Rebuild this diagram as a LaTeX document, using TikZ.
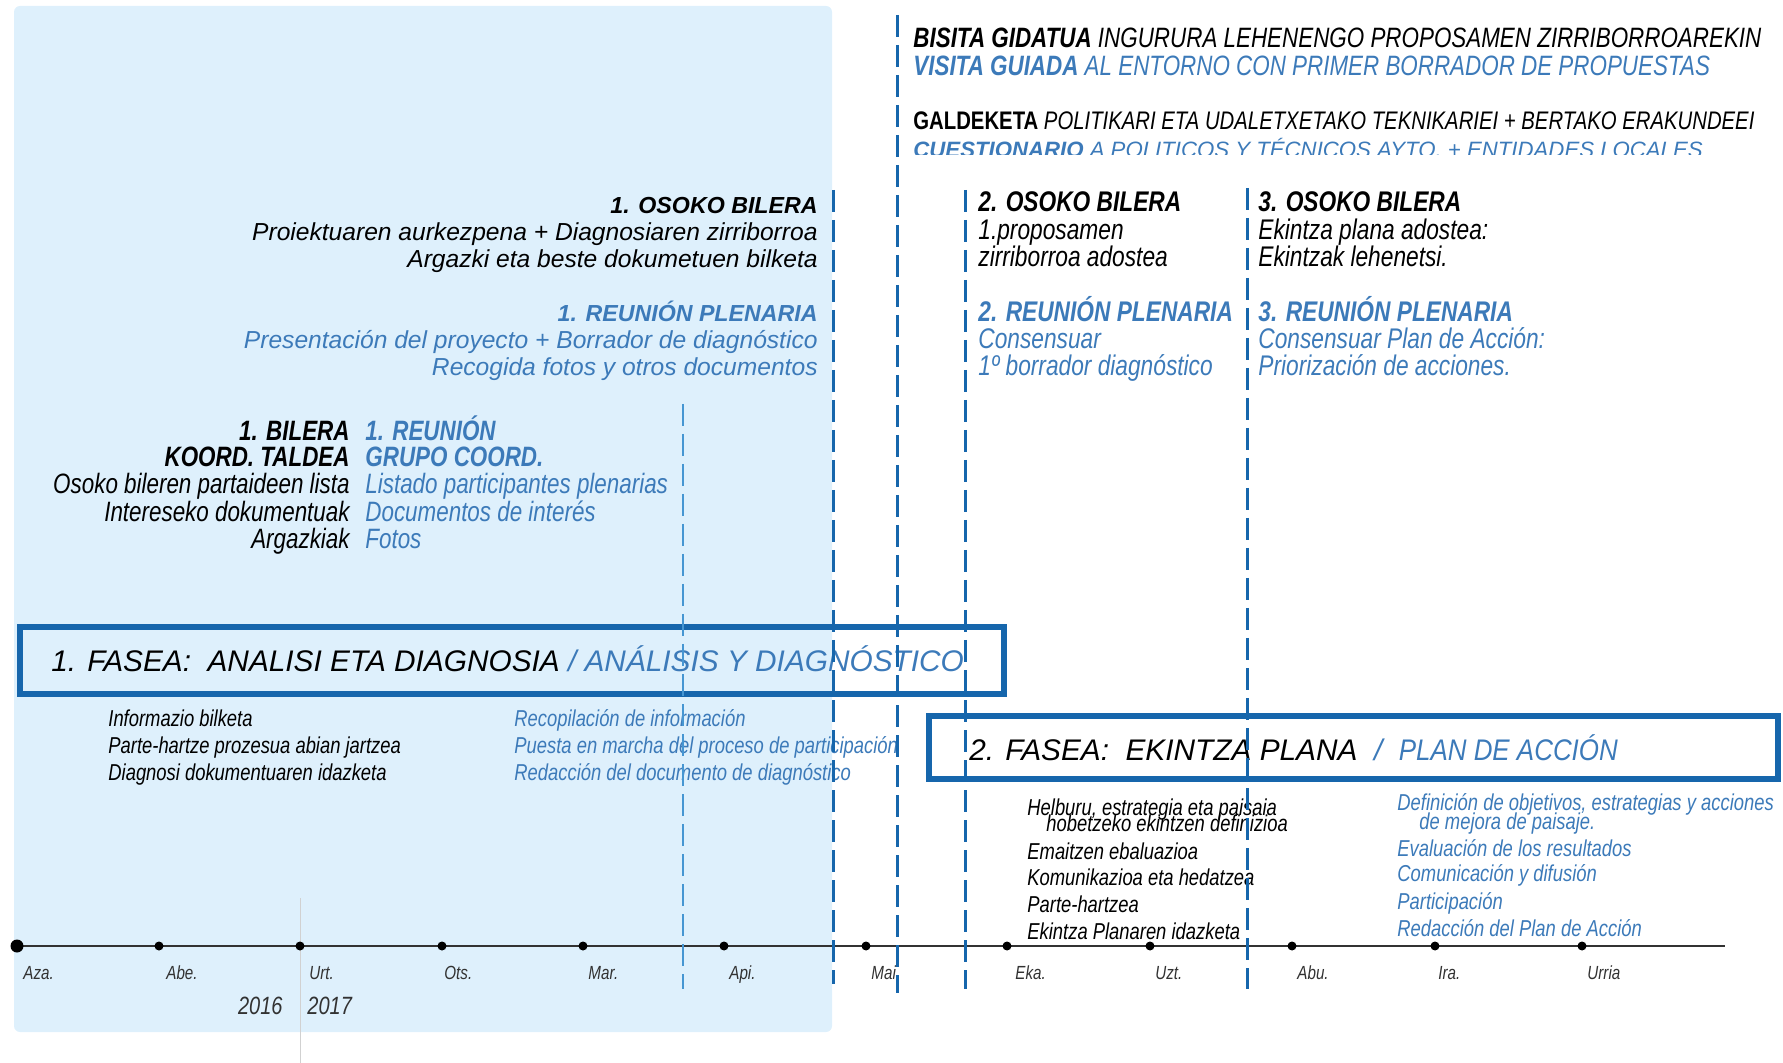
\documentclass[tikz,border=0pt]{standalone}
\usepackage{fontspec}
\setmainfont{Liberation Sans}
\newfontfamily\narrowfont[FakeStretch=0.8]{Liberation Sans}
\newfontfamily\semifont[FakeStretch=0.87]{Liberation Sans}
\definecolor{bgblue}{RGB}{222,240,252}
\definecolor{boxblue}{RGB}{22,102,172}
\definecolor{txtblue}{RGB}{60,122,185}
\definecolor{lightline}{RGB}{70,150,210}
\definecolor{axisgray}{RGB}{50,50,50}
\tikzset{
  eu/.style={inner sep=0pt, text=black},
  es/.style={inner sep=0pt, text=txtblue},
  toptxt/.style={anchor=base west, font=\narrowfont\fontsize{14}{16}\selectfont\itshape},
  meet/.style={font=\fontsize{12.3}{14}\selectfont\itshape},
  meethead/.style={font=\fontsize{11.6}{14}\selectfont\itshape\bfseries},
  coordtxt/.style={font=\narrowfont\fontsize{14}{16}\selectfont\itshape},
  midtxt/.style={anchor=base west, font=\narrowfont\fontsize{14.2}{16}\selectfont\itshape},
  listtxt/.style={anchor=base west, font=\narrowfont\fontsize{11.5}{13}\selectfont\itshape},
  fasetxt/.style={anchor=base west, font=\fontsize{14.9}{17}\selectfont\itshape},
  month/.style={inner sep=0pt, anchor=base west, text=axisgray,
    font=\narrowfont\fontsize{9.5}{11}\selectfont\itshape},
  year/.style={inner sep=0pt, text=axisgray, font=\narrowfont\fontsize{12.5}{14}\selectfont\itshape},
  phasebox/.style={draw=boxblue, line width=3pt},
  sepline/.style={boxblue, line width=1.5pt, dash pattern=on 11pt off 4pt},
  septhin/.style={lightline, line width=0.8pt, dash pattern=on 11pt off 4pt},
  dot/.style={circle, fill=black, inner sep=0pt, minimum size=4.5pt}
}
\begin{document}
\begin{tikzpicture}[x=0.5pt, y=-0.5pt]
    \useasboundingbox (0,0) rectangle (1783,1063);
    \pgfmathsetmacro{\axis}{946}

    \fill[bgblue, rounded corners=3pt] (14,6) rectangle (832,1032);
    \draw[black!18, line width=0.5pt] (300,898) -- (300,1063);

    \node[eu, toptxt] (bisita) at (913,48)
        {{\bfseries BISITA GIDATUA} INGURURA LEHENENGO PROPOSAMEN ZIRRIBORROAREKIN};
    \node[es, toptxt] (visita) at (913,76)
        {{\bfseries VISITA GUIADA} AL ENTORNO CON PRIMER BORRADOR DE PROPUESTAS};
    \node[eu, toptxt, font=\narrowfont\fontsize{12.7}{15}\selectfont\itshape] (galdeketa) at (913,130)
        {{\upshape\bfseries GALDEKETA} POLITIKARI ETA UDALETXETAKO TEKNIKARIEI + BERTAKO ERAKUNDEEI};
    \begin{scope}
        \clip (880,100) rectangle (1783,155);
        \node[es, anchor=base west, font=\fontsize{11.1}{13}\selectfont\itshape] (cuestionario) at (913,158)
            {{\bfseries CUESTIONARIO} A POLITICOS Y TÉCNICOS AYTO. + ENTIDADES LOCALES};
    \end{scope}

    \node[eu, meethead, anchor=base east] (osoko1) at (818,214) {1. OSOKO BILERA};
    \node[eu, meet, anchor=base east] (osoko1a) at (818,241) {Proiektuaren aurkezpena + Diagnosiaren zirriborroa};
    \node[eu, meet, anchor=base east] (osoko1b) at (818,268) {Argazki eta beste dokumetuen bilketa};
    \node[es, meethead, anchor=base east] (plenaria1) at (818,322) {1. REUNIÓN PLENARIA};
    \node[es, meet, anchor=base east] (plenaria1a) at (818,349) {Presentación del proyecto + Borrador de diagnóstico};
    \node[es, meet, anchor=base east] (plenaria1b) at (818,376) {Recogida fotos y otros documentos};

    \node[eu, coordtxt, anchor=base east] (bilera1) at (350,441) {\bfseries 1. BILERA};
    \node[eu, coordtxt, anchor=base east] (taldea) at (350,467) {\bfseries KOORD. TALDEA};
    \node[eu, coordtxt, anchor=base east] (lista) at (350,494) {Osoko bileren partaideen lista};
    \node[eu, coordtxt, anchor=base east] (dokumentuak) at (350,522) {Intereseko dokumentuak};
    \node[eu, coordtxt, anchor=base east] (argazkiak) at (350,549) {Argazkiak};
    \node[es, coordtxt, anchor=base west] (reunion1) at (365,441) {\bfseries 1. REUNIÓN};
    \node[es, coordtxt, anchor=base west] (grupo) at (365,467) {\bfseries GRUPO COORD.};
    \node[es, coordtxt, anchor=base west] (listado) at (365,494) {Listado participantes plenarias};
    \node[es, coordtxt, anchor=base west] (documentos) at (365,522) {Documentos de interés};
    \node[es, coordtxt, anchor=base west] (fotos) at (365,549) {Fotos};

    \node[eu, midtxt] (osoko2) at (978,212) {\bfseries 2. OSOKO BILERA};
    \node[eu, midtxt] (osoko2a) at (978,240) {1.proposamen};
    \node[eu, midtxt] (osoko2b) at (978,267) {zirriborroa adostea};
    \node[es, midtxt] (plenaria2) at (978,322) {\bfseries 2. REUNIÓN PLENARIA};
    \node[es, midtxt] (plenaria2a) at (978,349) {Consensuar};
    \node[es, midtxt] (plenaria2b) at (978,376) {1º borrador diagnóstico};
    \node[eu, midtxt] (osoko3) at (1258,212) {\bfseries 3. OSOKO BILERA};
    \node[eu, midtxt] (osoko3a) at (1258,240) {Ekintza plana adostea:};
    \node[eu, midtxt] (osoko3b) at (1258,267) {Ekintzak lehenetsi.};
    \node[es, midtxt] (plenaria3) at (1258,322) {\bfseries 3. REUNIÓN PLENARIA};
    \node[es, midtxt] (plenaria3a) at (1258,349) {Consensuar Plan de Acción:};
    \node[es, midtxt] (plenaria3b) at (1258,376) {Priorización de acciones.};

    \node[eu, fasetxt] (fase1) at (51,671)
        {1. FASEA:\ \ ANALISI ETA DIAGNOSIA \textcolor{txtblue}{/ ANÁLISIS Y DIAGNÓSTICO}};
    \draw[phasebox] (20,627) rectangle (1004,694);
    \node[eu, listtxt] (bilketa) at (108,726) {Informazio bilketa};
    \node[eu, listtxt] (abian) at (108,753) {Parte-hartze prozesua abian jartzea};
    \node[eu, listtxt] (idazketa1) at (108,780) {Diagnosi dokumentuaren idazketa};
    \node[es, listtxt] (recopilacion) at (514,726) {Recopilación de información};
    \node[es, listtxt] (puesta) at (514,753) {Puesta en marcha del proceso de participación};
    \node[es, listtxt] (redaccion1) at (514,780) {Redacción del documento de diagnóstico};

    \node[eu, fasetxt] (fase2) at (969,760)
        {2. FASEA:\ \ EKINTZA PLANA\ \ \textcolor{txtblue}{/\ \ {\semifont PLAN DE ACCIÓN}}};
    \draw[phasebox] (929,716) rectangle (1778,779);
    \node[eu, listtxt] (helburu) at (1027,815) {Helburu, estrategia eta paisaia};
    \node[eu, listtxt] (hobetzeko) at (1046,831) {hobetzeko ekintzen definizioa};
    \node[eu, listtxt] (emaitzen) at (1027,859) {Emaitzen ebaluazioa};
    \node[eu, listtxt] (komunikazioa) at (1027,885) {Komunikazioa eta hedatzea};
    \node[eu, listtxt] (partehartzea) at (1027,912) {Parte-hartzea};
    \node[eu, listtxt] (idazketa2) at (1027,939) {Ekintza Planaren idazketa};
    \node[es, listtxt] (definicion) at (1397,810) {Definición de objetivos, estrategias y acciones};
    \node[es, listtxt] (mejora) at (1419,829) {de mejora de paisaje.};
    \node[es, listtxt] (evaluacion) at (1397,856) {Evaluación de los resultados};
    \node[es, listtxt] (comunicacion) at (1397,881) {Comunicación y difusión};
    \node[es, listtxt] (participacion) at (1397,909) {Participación};
    \node[es, listtxt] (redaccion2) at (1397,936) {Redacción del Plan de Acción};

    \coordinate (tstart) at (17,\axis);
    \coordinate (tend) at (1725,\axis);
    \draw[axisgray, line width=1pt] (tstart) -- (tend);
    \node[dot, minimum size=6.5pt] (aza) at (17,\axis) {};
    \node[dot] (abe) at (159,\axis) {};
    \node[dot] (urt) at (300,\axis) {};
    \node[dot] (ots) at (442,\axis) {};
    \node[dot] (mar) at (583,\axis) {};
    \node[dot] (api) at (724,\axis) {};
    \node[dot] (mai) at (866,\axis) {};
    \node[dot] (eka) at (1007,\axis) {};
    \node[dot] (uzt) at (1150,\axis) {};
    \node[dot] (abu) at (1292,\axis) {};
    \node[dot] (ira) at (1435,\axis) {};
    \node[dot] (urria) at (1582,\axis) {};
    \node[month] (azalbl) at ([shift={(6,33)}]aza) {Aza.};
    \node[month] (abelbl) at ([shift={(7,33)}]abe) {Abe.};
    \node[month] (urtlbl) at ([shift={(9,33)}]urt) {Urt.};
    \node[month] (otslbl) at ([shift={(2,33)}]ots) {Ots.};
    \node[month] (marlbl) at ([shift={(5,33)}]mar) {Mar.};
    \node[month] (apilbl) at ([shift={(5,33)}]api) {Api.};
    \node[month] (mailbl) at ([shift={(5,33)}]mai) {Mai};
    \node[month] (ekalbl) at ([shift={(8,33)}]eka) {Eka.};
    \node[month] (uztlbl) at ([shift={(5,33)}]uzt) {Uzt.};
    \node[month] (abulbl) at ([shift={(5,33)}]abu) {Abu.};
    \node[month] (iralbl) at ([shift={(3,33)}]ira) {Ira.};
    \node[month] (urrialbl) at ([shift={(5,33)}]urria) {Urria};
    \node[year, anchor=base east] (y2016) at (283,1014) {2016};
    \node[year, anchor=base west] (y2017) at (307,1014) {2017};

    \coordinate (s1top) at (683,404);
    \coordinate (s1bot) at (683,989);
    \coordinate (s2top) at (833,190);
    \coordinate (s2bot) at (833,984);
    \coordinate (s3top) at (897,15);
    \coordinate (s3bot) at (897,993);
    \coordinate (s4top) at (965,190);
    \coordinate (s4bot) at (965,989);
    \coordinate (s5top) at (1247,188);
    \coordinate (s5bot) at (1247,989);
    \draw[septhin] (s1top) -- (s1bot);
    \draw[sepline] (s2top) -- (s2bot);
    \draw[sepline] (s3top) -- (s3bot);
    \draw[sepline] (s4top) -- (s4bot);
    \draw[sepline] (s5top) -- (s5bot);
\end{tikzpicture}
\end{document}
